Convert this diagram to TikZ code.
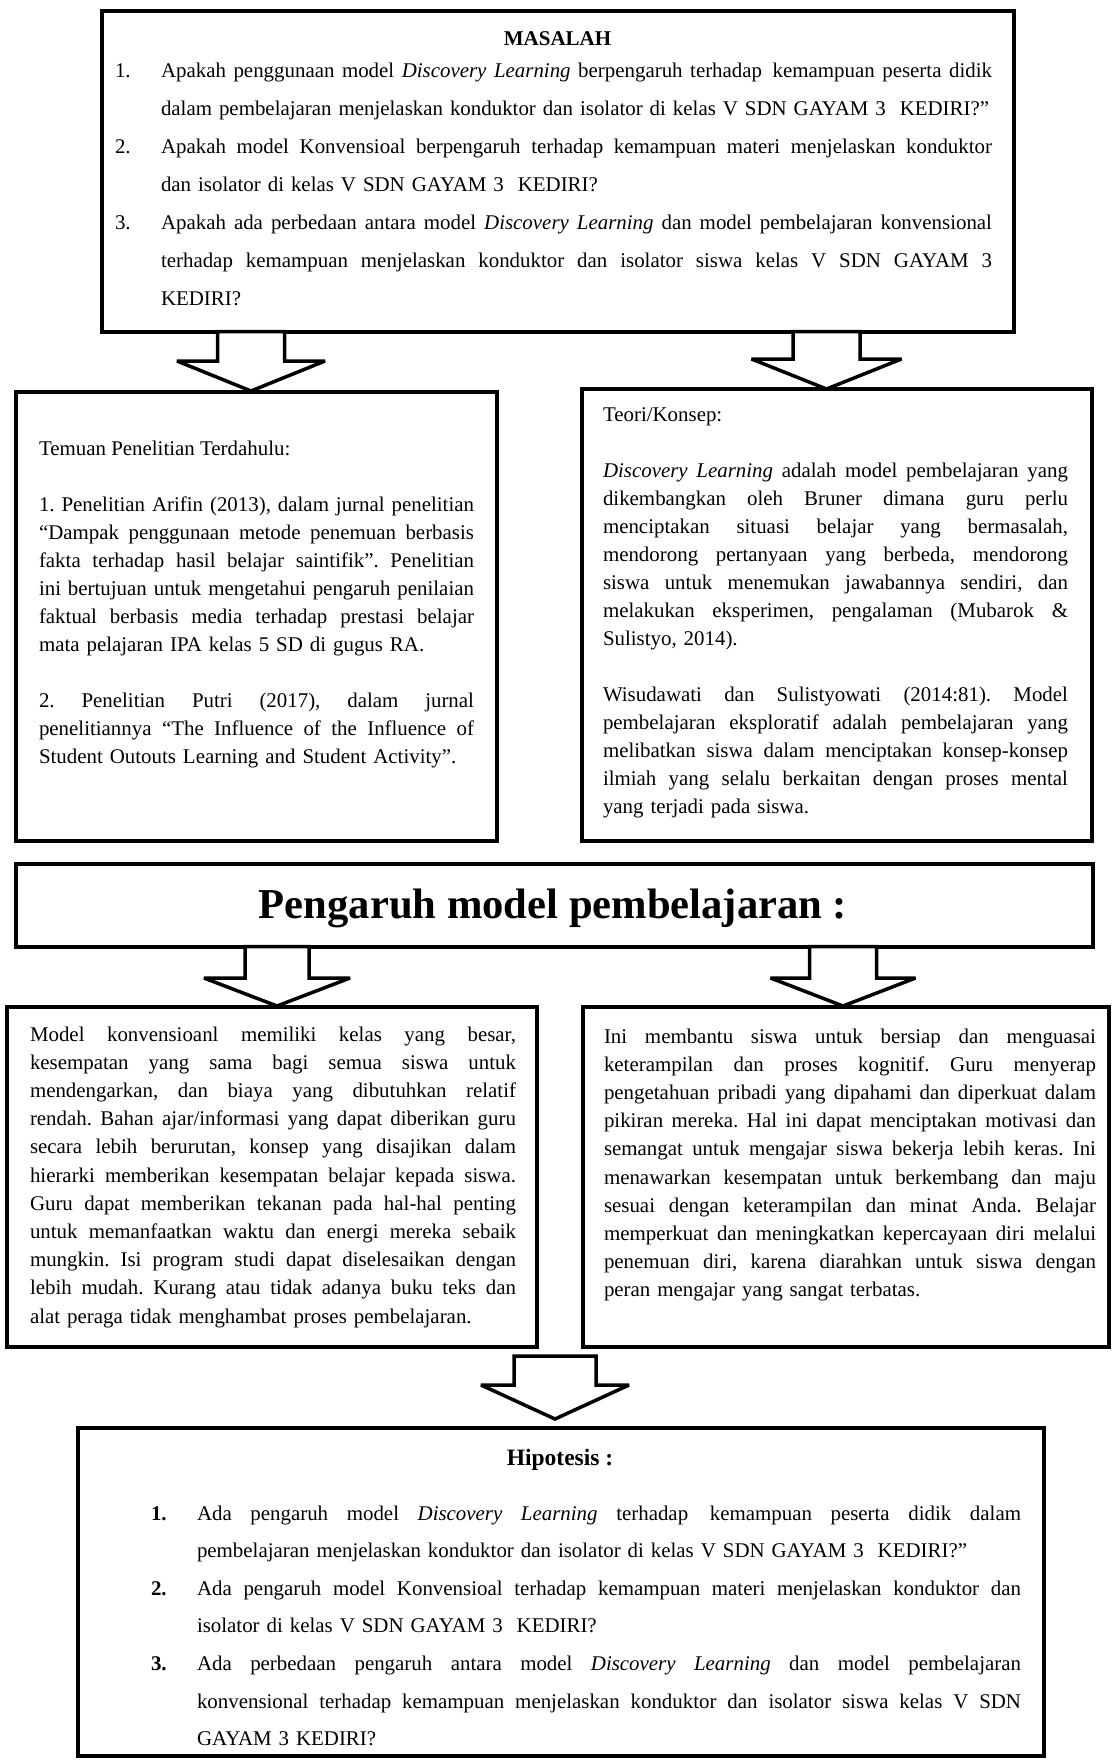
\documentclass[tikz,border=0pt]{standalone}
\usepackage{fontspec}
\setmainfont{Liberation Serif}
\newcommand\jl[1]{\leavevmode\hbox to\hsize{\spaceskip=0.25em plus 1fil minus 0.04em\relax #1}\par}
\newcommand\lastl[1]{\leavevmode\hbox{#1}\par}
\newcommand\dsp{\ \kern3pt}
\newcommand\blockarr[7]{% x, ytop, yshoulder, ytip, shaft half, wing half, name
  \draw[blockarrow] ({#1-#5},#2) -- ({#1-#5},#3) -- ({#1-#6},#3) -- (#1,#4) coordinate (#7)
     -- ({#1+#6},#3) -- ({#1+#5},#3) -- ({#1+#5},#2) -- cycle;}
\tikzset{
  frame/.style={draw, line width=4pt, inner sep=0pt, outer sep=0pt, anchor=north west},
  blockarrow/.style={draw, fill=white, line width=3.5pt, line join=miter, miter limit=4},
  body/.style={inner sep=0pt, outer sep=0pt, anchor=base west, font=\fontsize{20.9pt}{28pt}\selectfont\frenchspacing},
  lst/.style={inner sep=0pt, outer sep=0pt, anchor=base west, font=\fontsize{20.9pt}{38pt}\selectfont\frenchspacing},
  hlst/.style={inner sep=0pt, outer sep=0pt, anchor=base west, font=\fontsize{20.9pt}{37.6pt}\selectfont\frenchspacing},
  ttl/.style={inner sep=0pt, outer sep=0pt, anchor=base, font=\fontsize{21pt}{25pt}\selectfont\bfseries},
}
\begin{document}
\frenchspacing
\begin{tikzpicture}[x=1pt,y=-1pt]
\fill[white] (0,0) rectangle (1113,1760);
\useasboundingbox (0,0) rectangle (1113,1760);

% ---------- boxes ----------
\node[frame, minimum width=912pt, minimum height=320pt] (masalah) at (101.5,11.5) {};
\node[frame, minimum width=481pt, minimum height=449pt] (temuan) at (16,392) {};
\node[frame, minimum width=510pt, minimum height=452pt] (teori) at (582,389) {};
\node[frame, minimum width=1077pt, minimum height=83pt] (pengaruh) at (16,864) {};
\node[frame, minimum width=530pt, minimum height=340pt] (konv) at (7,1007) {};
\node[frame, minimum width=526pt, minimum height=340pt] (disc) at (583,1007) {};
\node[frame, minimum width=966pt, minimum height=328pt] (hipo) at (78,1428) {};

% ---------- arrows ----------
\blockarr{251}{331.5}{361}{391}{33.5}{74}{t1}
\blockarr{826.5}{331.5}{359}{389}{33.5}{75}{t2}
\blockarr{277}{946.5}{978}{1006}{32}{73}{t3}
\blockarr{843}{946.5}{978}{1006}{33.5}{72.5}{t4}
\blockarr{555}{1356}{1385}{1419}{41}{74}{t5}

% ---------- MASALAH ----------
\node[ttl] (mtitle) at (557.5,46) {MASALAH};
\node[lst] (mn1) at (115,78) {1.};
\node[lst, text width=831pt] (m1) at (161,78) {%
\jl{Apakah penggunaan model \textit{Discovery Learning} berpengaruh terhadap\dsp kemampuan peserta didik}%
\lastl{dalam pembelajaran menjelaskan konduktor dan isolator di kelas V SDN GAYAM 3\ \ KEDIRI?”}};
\node[lst] (mn2) at (115,154) {2.};
\node[lst, text width=831pt] (m2) at (161,154) {%
\jl{Apakah model Konvensioal berpengaruh terhadap kemampuan materi menjelaskan konduktor}%
\lastl{dan isolator di kelas V SDN GAYAM 3\ \ KEDIRI?}};
\node[lst] (mn3) at (115,230) {3.};
\node[lst, text width=831pt] (m3) at (161,230) {%
\jl{Apakah ada perbedaan antara model \textit{Discovery Learning} dan model pembelajaran konvensional}%
\jl{terhadap kemampuan menjelaskan konduktor dan isolator siswa kelas V SDN GAYAM 3}%
\lastl{KEDIRI?}};

% ---------- Temuan ----------
\node[body] (temt) at (39,455) {Temuan Penelitian Terdahulu:};
\node[body, text width=435pt] (tem1) at (39,511) {%
\jl{1. Penelitian Arifin (2013), dalam jurnal penelitian}%
\jl{“Dampak penggunaan metode penemuan berbasis}%
\jl{fakta terhadap hasil belajar saintifik”. Penelitian}%
\jl{ini bertujuan untuk mengetahui pengaruh penilaian}%
\jl{faktual berbasis media terhadap prestasi belajar}%
\lastl{mata pelajaran IPA kelas 5 SD di gugus RA.}};
\node[body, text width=435pt] (tem2) at (39,707) {%
\jl{2. Penelitian Putri (2017), dalam jurnal}%
\jl{penelitiannya “The Influence of the Influence of}%
\lastl{Student Outouts Learning and Student Activity”.}};

% ---------- Teori ----------
\node[body] (teot) at (603,421) {Teori/Konsep:};
\node[body, text width=465pt] (teo1) at (603,477) {%
\jl{\textit{Discovery Learning} adalah model pembelajaran yang}%
\jl{dikembangkan oleh Bruner dimana guru perlu}%
\jl{menciptakan situasi belajar yang bermasalah,}%
\jl{mendorong pertanyaan yang berbeda, mendorong}%
\jl{siswa untuk menemukan jawabannya sendiri, dan}%
\jl{melakukan eksperimen, pengalaman (Mubarok \&}%
\lastl{Sulistyo, 2014).}};
\node[body, text width=465pt] (teo2) at (603,701) {%
\jl{Wisudawati dan Sulistyowati (2014:81). Model}%
\jl{pembelajaran eksploratif adalah pembelajaran yang}%
\jl{melibatkan siswa dalam menciptakan konsep-konsep}%
\jl{ilmiah yang selalu berkaitan dengan proses mental}%
\lastl{yang terjadi pada siswa.}};

% ---------- Pengaruh ----------
\node[inner sep=0pt, anchor=base, font=\fontsize{42.6pt}{48pt}\selectfont\bfseries] (pent) at (553,918) {Pengaruh model pembelajaran :};

% ---------- bottom left ----------
\node[body, text width=486pt, font=\fontsize{20.9pt}{28.2pt}\selectfont\frenchspacing] (kv) at (30,1041) {%
\jl{Model konvensioanl memiliki kelas yang besar,}%
\jl{kesempatan yang sama bagi semua siswa untuk}%
\jl{mendengarkan, dan biaya yang dibutuhkan relatif}%
\jl{rendah. Bahan ajar/informasi yang dapat diberikan guru}%
\jl{secara lebih berurutan, konsep yang disajikan dalam}%
\jl{hierarki memberikan kesempatan belajar kepada siswa.}%
\jl{Guru dapat memberikan tekanan pada hal-hal penting}%
\jl{untuk memanfaatkan waktu dan energi mereka sebaik}%
\jl{mungkin. Isi program studi dapat diselesaikan dengan}%
\jl{lebih mudah. Kurang atau tidak adanya buku teks dan}%
\lastl{alat peraga tidak menghambat proses pembelajaran.}};

% ---------- bottom right ----------
\node[body, text width=492pt, font=\fontsize{20.9pt}{28.2pt}\selectfont\frenchspacing] (dc) at (604,1043) {%
\jl{Ini membantu siswa untuk bersiap dan menguasai}%
\jl{keterampilan dan proses kognitif. Guru menyerap}%
\jl{pengetahuan pribadi yang dipahami dan diperkuat dalam}%
\jl{pikiran mereka. Hal ini dapat menciptakan motivasi dan}%
\jl{semangat untuk mengajar siswa bekerja lebih keras. Ini}%
\jl{menawarkan kesempatan untuk berkembang dan maju}%
\jl{sesuai dengan keterampilan dan minat Anda. Belajar}%
\jl{memperkuat dan meningkatkan kepercayaan diri melalui}%
\jl{penemuan diri, karena diarahkan untuk siswa dengan}%
\lastl{peran mengajar yang sangat terbatas.}};

% ---------- Hipotesis ----------
\node[ttl, font=\fontsize{23.5pt}{26pt}\selectfont\bfseries] (htitle) at (560,1465) {Hipotesis :};
\node[hlst, font=\fontsize{20.9pt}{37.6pt}\selectfont\bfseries] (hn1) at (151,1520) {1.};
\node[hlst, text width=824pt] (h1) at (197,1520) {%
\jl{Ada pengaruh model \textit{Discovery Learning} terhadap\dsp kemampuan peserta didik dalam}%
\lastl{pembelajaran menjelaskan konduktor dan isolator di kelas V SDN GAYAM 3\ \ KEDIRI?”}};
\node[hlst, font=\fontsize{20.9pt}{37.6pt}\selectfont\bfseries] (hn2) at (151,1595.2) {2.};
\node[hlst, text width=824pt] (h2) at (197,1595.2) {%
\jl{Ada pengaruh model Konvensioal terhadap kemampuan materi menjelaskan konduktor dan}%
\lastl{isolator di kelas V SDN GAYAM 3\ \ KEDIRI?}};
\node[hlst, font=\fontsize{20.9pt}{37.6pt}\selectfont\bfseries] (hn3) at (151,1670.4) {3.};
\node[hlst, text width=824pt] (h3) at (197,1670.4) {%
\jl{Ada perbedaan pengaruh antara model \textit{Discovery Learning} dan model pembelajaran}%
\jl{konvensional terhadap kemampuan menjelaskan konduktor dan isolator siswa kelas V SDN}%
\lastl{GAYAM 3 KEDIRI?}};
\end{tikzpicture}
\end{document}
